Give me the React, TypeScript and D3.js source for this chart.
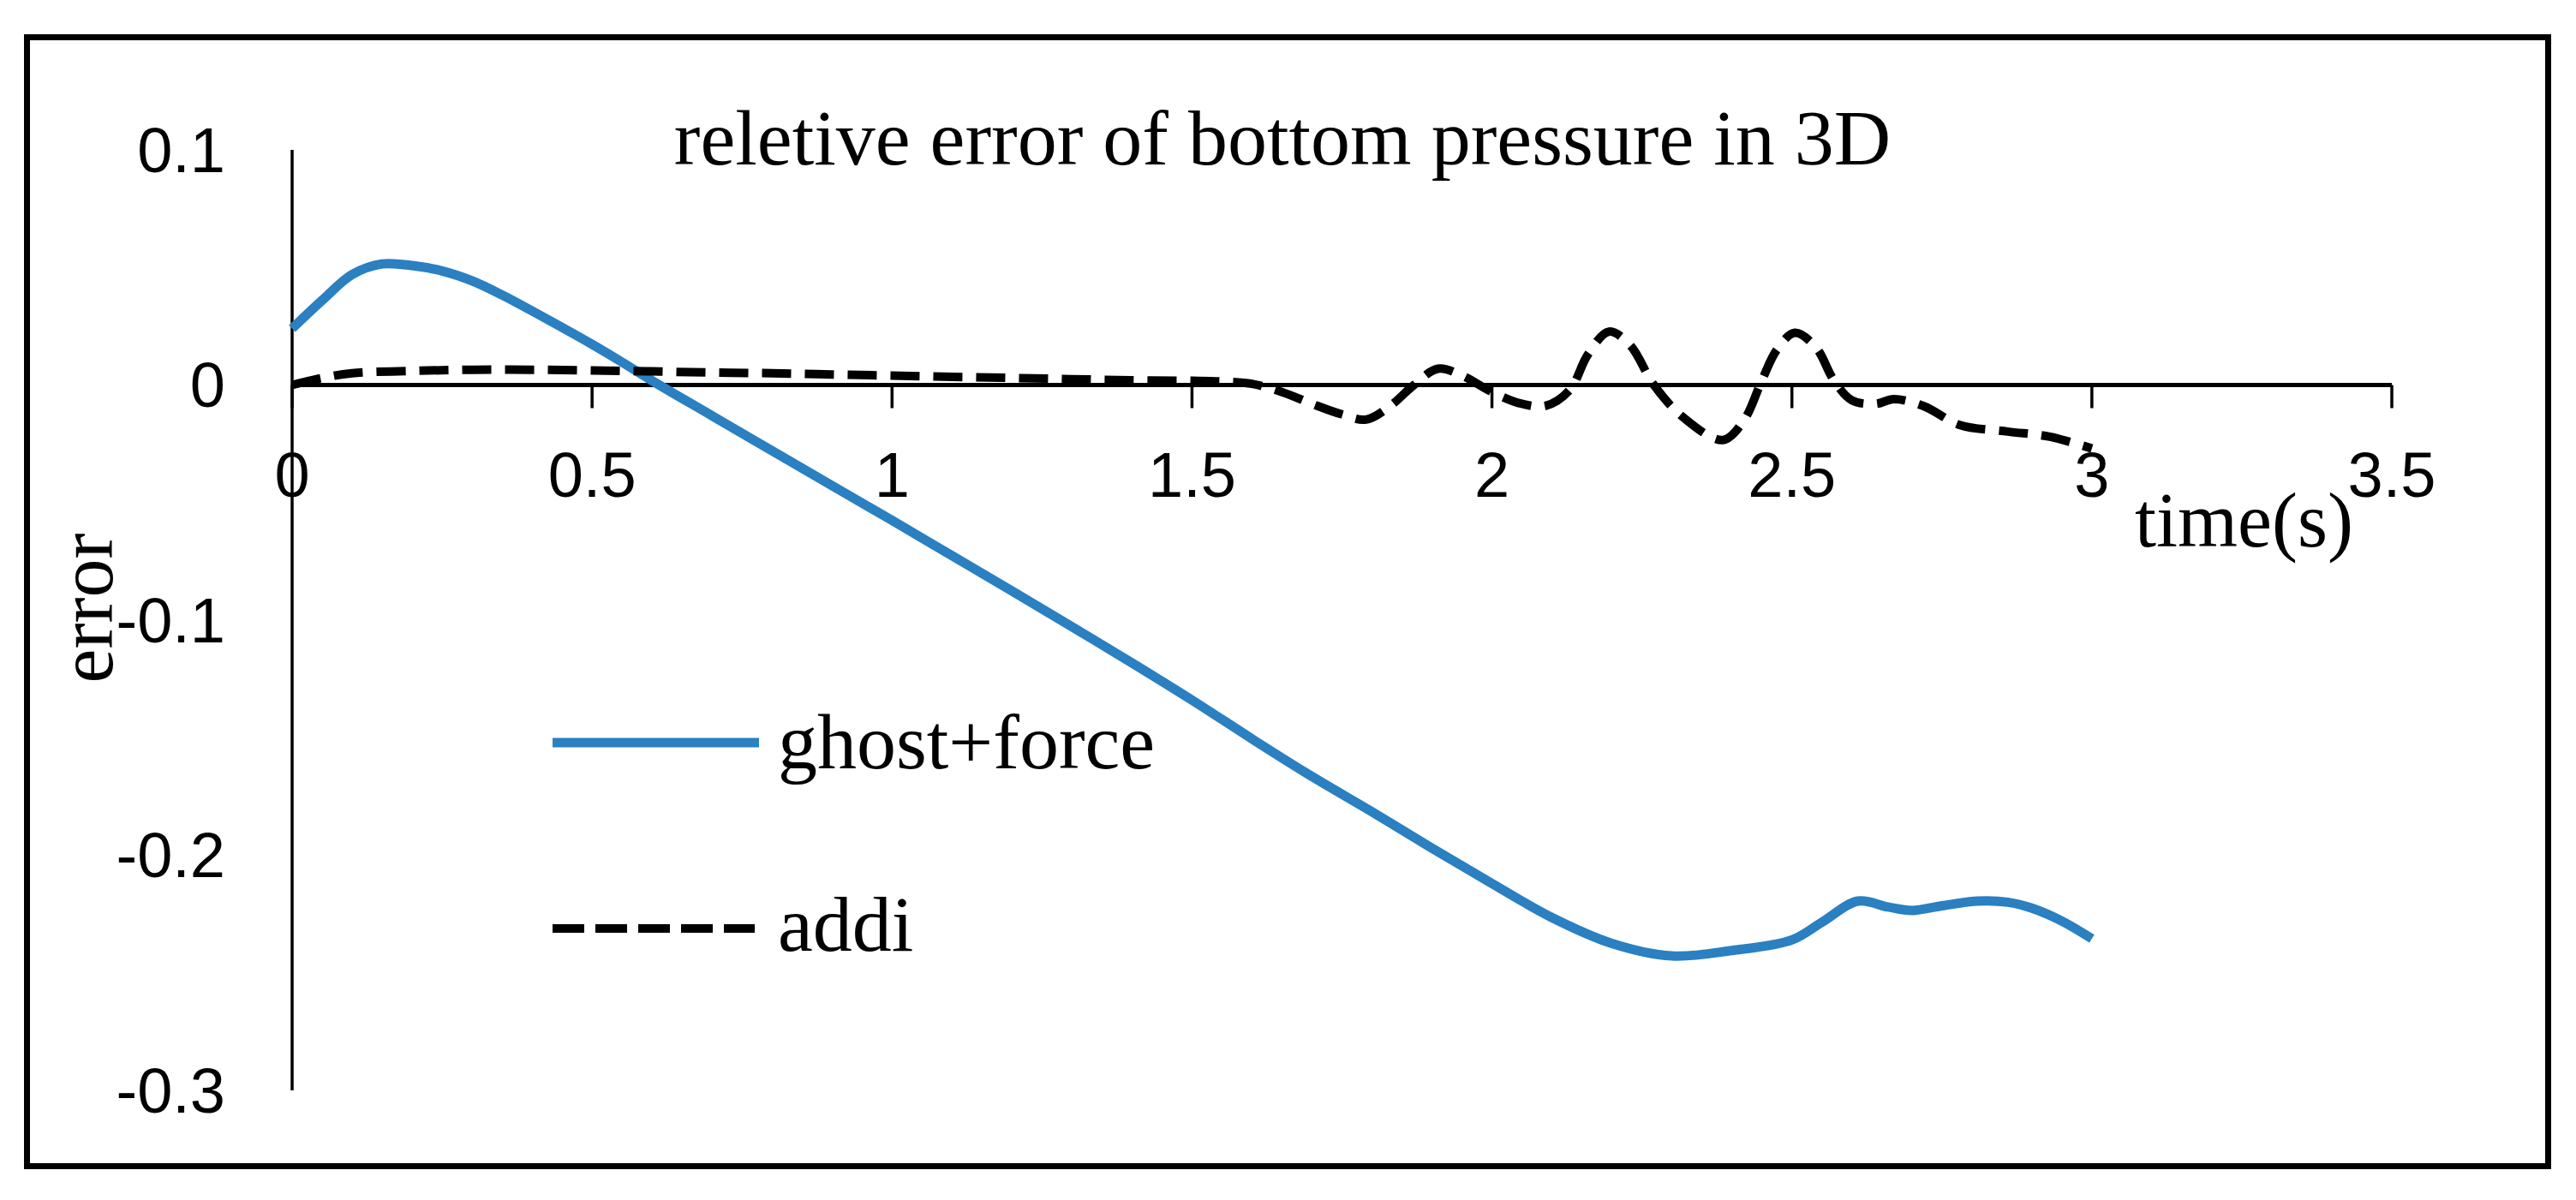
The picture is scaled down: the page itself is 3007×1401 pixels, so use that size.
import React from "react";
import * as d3 from "d3";

const titleText = "reletive error of bottom pressure in 3D";
const xLabel = "time(s)";
const yLabel = "error";
const seriesNames = ["ghost+force", "addi"];

const xTicks = [0, 0.5, 1, 1.5, 2, 2.5, 3, 3.5];
const yTicks = [0.1, 0, -0.1, -0.2, -0.3];

const ghostT = [0, 0.05, 0.1, 0.15, 0.2, 0.25, 0.3, 0.35, 0.4, 0.45, 0.5, 0.55, 0.6, 0.7, 0.8, 0.9, 1.0, 1.1, 1.2, 1.3, 1.4, 1.5, 1.6, 1.7, 1.8, 1.9, 2.0, 2.1, 2.2, 2.3, 2.4, 2.5, 2.55, 2.61, 2.66, 2.7, 2.75, 2.81, 2.86, 2.9, 2.95, 3.0];
const ghostV = [0.024, 0.036, 0.047, 0.0515, 0.0508, 0.0485, 0.0443, 0.0383, 0.0315, 0.0245, 0.0173, 0.0097, 0.0018, -0.0131, -0.028, -0.0428, -0.0576, -0.0726, -0.0876, -0.1028, -0.1182, -0.134, -0.1505, -0.1665, -0.1815, -0.197, -0.212, -0.2265, -0.2375, -0.2428, -0.2405, -0.236, -0.2285, -0.2195, -0.222, -0.2235, -0.2215, -0.2195, -0.22, -0.2225, -0.228, -0.2355];

const addiT = [0, 0.05, 0.1, 0.2, 0.3, 0.4, 0.5, 0.6, 0.7, 0.8, 0.9, 1.0, 1.1, 1.2, 1.3, 1.4, 1.5, 1.55, 1.6, 1.65, 1.7, 1.75, 1.79, 1.83, 1.87, 1.91, 1.95, 2.0, 2.05, 2.09, 2.13, 2.16, 2.195, 2.23, 2.27, 2.32, 2.385, 2.42, 2.45, 2.475, 2.505, 2.54, 2.57, 2.6, 2.64, 2.67, 2.72, 2.78, 2.86, 2.93, 3.0];
const addiV = [0.0, 0.003, 0.005, 0.006, 0.0065, 0.0065, 0.0062, 0.0058, 0.0053, 0.005, 0.0045, 0.004, 0.0035, 0.003, 0.0025, 0.002, 0.0018, 0.0015, 0.0005, -0.003, -0.008, -0.0125, -0.0147, -0.009, 0.0, 0.0069, 0.004, -0.003, -0.008, -0.0088, -0.002, 0.013, 0.0227, 0.017, 0.0, -0.014, -0.0234, -0.015, 0.002, 0.015, 0.0222, 0.016, 0.002, -0.0065, -0.008, -0.006, -0.009, -0.017, -0.0198, -0.022, -0.027];

const W = 3007;
const H = 1401;
const serif = "'Liberation Serif', 'Times New Roman', serif";
const sans = "'Liberation Sans', Arial, sans-serif";
const blue = "#2a80c0";

export default function App() {
  const x = d3.scaleLinear().domain([0, 3.5]).range([341, 2792]);
  const y = d3.scaleLinear().domain([-0.3, 0.1]).range([1273, 175]);

  const line = d3
    .line<[number, number]>()
    .x((d) => x(d[0]))
    .y((d) => y(d[1]))
    .curve(d3.curveCatmullRom.alpha(0.5));

  const ghostData: [number, number][] = ghostT.map((t, i) => [t, ghostV[i]]);
  const addiData: [number, number][] = addiT.map((t, i) => [t, addiV[i]]);

  return (
    <svg
      width={W}
      height={H}
      style={{ position: "absolute", left: 0, top: 0, background: "#fff" }}
    >
      <rect x={0} y={0} width={W} height={H} fill="#fff" />
      <rect x={31.5} y={43.5} width={2943} height={1318} fill="none" stroke="#000" strokeWidth={7} />

      {/* title */}
      <text x={1497} y={192} textAnchor="middle" fontFamily={serif} fontSize={92} fill="#000">
        {titleText}
      </text>

      {/* y axis */}
      <line x1={x(0)} x2={x(0)} y1={y(0.1)} y2={y(-0.3)} stroke="#000" strokeWidth={3.5} />
      {yTicks.map((v) => (
        <text key={v} x={263} y={y(v)} dy="0.35em" textAnchor="end" fontFamily={sans} fontSize={74} fill="#000">
          {String(v)}
        </text>
      ))}

      {/* x axis */}
      <line x1={x(0)} x2={x(3.5)} y1={y(0)} y2={y(0)} stroke="#000" strokeWidth={5} />
      {xTicks.map((t) => (
        <g key={t}>
          <line x1={x(t)} x2={x(t)} y1={y(0)} y2={y(0) + 27} stroke="#000" strokeWidth={3.5} />
          <text x={x(t)} y={580} textAnchor="middle" fontFamily={sans} fontSize={74} fill="#000">
            {String(t)}
          </text>
        </g>
      ))}

      <text x={2492} y={638} fontFamily={serif} fontSize={90} fill="#000">
        {xLabel}
      </text>
      <text
        transform={`translate(131,710) rotate(-90)`}
        textAnchor="middle"
        fontFamily={serif}
        fontSize={90}
        fill="#000"
      >
        {yLabel}
      </text>

      {/* series */}
      <path d={line(ghostData) || ""} fill="none" stroke={blue} strokeWidth={11} strokeLinejoin="round" />
      <path d={line(addiData) || ""} fill="none" stroke="#000" strokeWidth={10} strokeDasharray="34 16" />

      {/* legend */}
      <line x1={645} x2={886} y1={867} y2={867} stroke={blue} strokeWidth={11} />
      <text x={908} y={897} fontFamily={serif} fontSize={92} fill="#000">
        {seriesNames[0]}
      </text>
      <line x1={645} x2={881} y1={1084} y2={1084} stroke="#000" strokeWidth={10} strokeDasharray="37 13" />
      <text x={908} y={1110} fontFamily={serif} fontSize={92} fill="#000">
        {seriesNames[1]}
      </text>
    </svg>
  );
}
